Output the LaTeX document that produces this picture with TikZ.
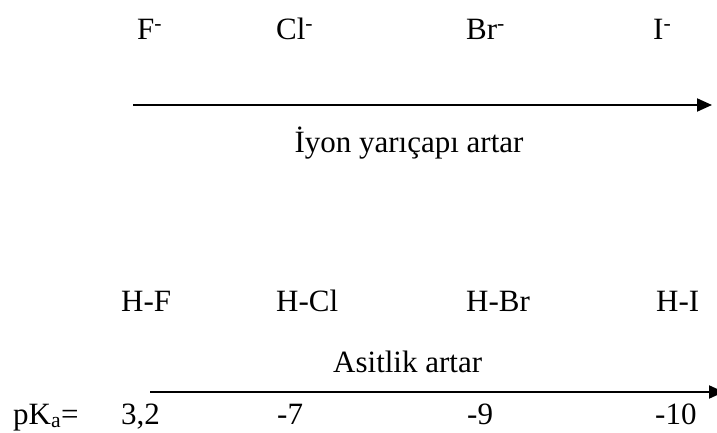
\documentclass[tikz,border=0pt]{standalone}
\usepackage{fontspec}
\setmainfont{Liberation Serif}
\usetikzlibrary{arrows.meta}
\begin{document}
\begin{tikzpicture}[x=1pt,y=-1pt,
  lbl/.style={anchor=base west, inner sep=0pt, font=\fontsize{31}{37}\selectfont},
  arr/.style={line width=2pt, -{Triangle[length=15pt,width=13pt]}}]
\useasboundingbox (0,0) rectangle (717,433);
\clip (0,0) rectangle (717,433);
% top row
\node[lbl] (F)  at (137,40) {F\textsuperscript{-}};
\node[lbl] (Cl) at (276,40) {Cl\textsuperscript{-}};
\node[lbl] (Br) at (466,40) {Br\textsuperscript{-}};
\node[lbl] (I)  at (653,40) {I\textsuperscript{-}};
\coordinate (a1s) at (133,105);
\coordinate (a1e) at (712,105);
\draw[arr] (a1s) -- (a1e);
\node[lbl, anchor=base] (ion) at (409,152) {İyon yarıçapı artar};
% bottom rows
\node[lbl] (HF)  at (121,311) {H-F};
\node[lbl] (HCl) at (276,311) {H-Cl};
\node[lbl] (HBr) at (466,311) {H-Br};
\node[lbl] (HI)  at (656,311) {H-I};
\node[lbl] (asit) at (333,372) {Asitlik artar};
\coordinate (a2s) at (150,392);
\coordinate (a2e) at (724,392);
\draw[arr] (a2s) -- (a2e);
\node[lbl] (pka) at (13,424) {pK\textsubscript{a}=};
\node[lbl] (v1) at (121,424) {3,2};
\node[lbl] (v2) at (277,424) {-7};
\node[lbl] (v3) at (467,424) {-9};
\node[lbl] (v4) at (655,424) {-10};
\end{tikzpicture}
\end{document}
